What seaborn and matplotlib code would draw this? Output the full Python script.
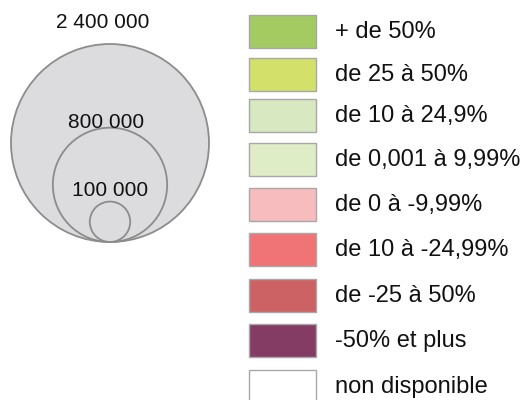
import matplotlib.pyplot as plt
from matplotlib.patches import Circle, Rectangle
import numpy as np
import seaborn as sns

# donnees de la legende
classes = ['+ de 50%', 'de 25 à 50%', 'de 10 à 24,9%', 'de 0,001 à 9,99%',
           'de 0 à -9,99%', 'de 10 à -24,99%', 'de -25 à 50%',
           '-50% et plus', 'non disponible']
couleurs = ['#a3cb62', '#d3e06a', '#d8e8c0', '#deedc6',
            '#f6bcbe', '#f07476', '#cd6264', '#843c64', '#ffffff']
populations = [2400000, 800000, 100000]
labels_pop = ['2 400 000', '800 000', '100 000']

sns.set_theme(style='white')
plt.rcParams['font.family'] = ['Liberation Sans', 'DejaVu Sans']

fig = plt.figure(figsize=(5.28, 4.0), dpi=100)
ax = fig.add_axes([0, 0, 1, 1])
ax.set_xlim(0, 528)
ax.set_ylim(400, 0)
ax.axis('off')

# cercles proportionnels (surface)
r_max = 99
base_y = 242
cx = 110
label_y = [22, 123, 191]
label_x = [103, 106, 110]
for pop, lab, ly, lx in zip(populations, labels_pop, label_y, label_x):
    r = r_max * np.sqrt(pop / populations[0])
    ax.add_patch(Circle((cx, base_y - r), r, facecolor='#dcdbdd',
                        edgecolor='#8c8c8c', lw=1.3))
    ax.text(lx, ly, lab, ha='center', va='center', fontsize=15, color='#111111')

# cases de couleur
tops = [15, 58, 99, 143, 188, 233, 279, 324, 370]
pal = sns.color_palette(couleurs)
for top, c, lab in zip(tops, pal, classes):
    ax.add_patch(Rectangle((249, top), 67, 33, facecolor=c,
                           edgecolor='#a8a8a8', lw=1.0))
    ax.text(335, top + 17, lab, ha='left', va='center', fontsize=17,
            color='#111111')

fig.savefig('out.png', dpi=100)
